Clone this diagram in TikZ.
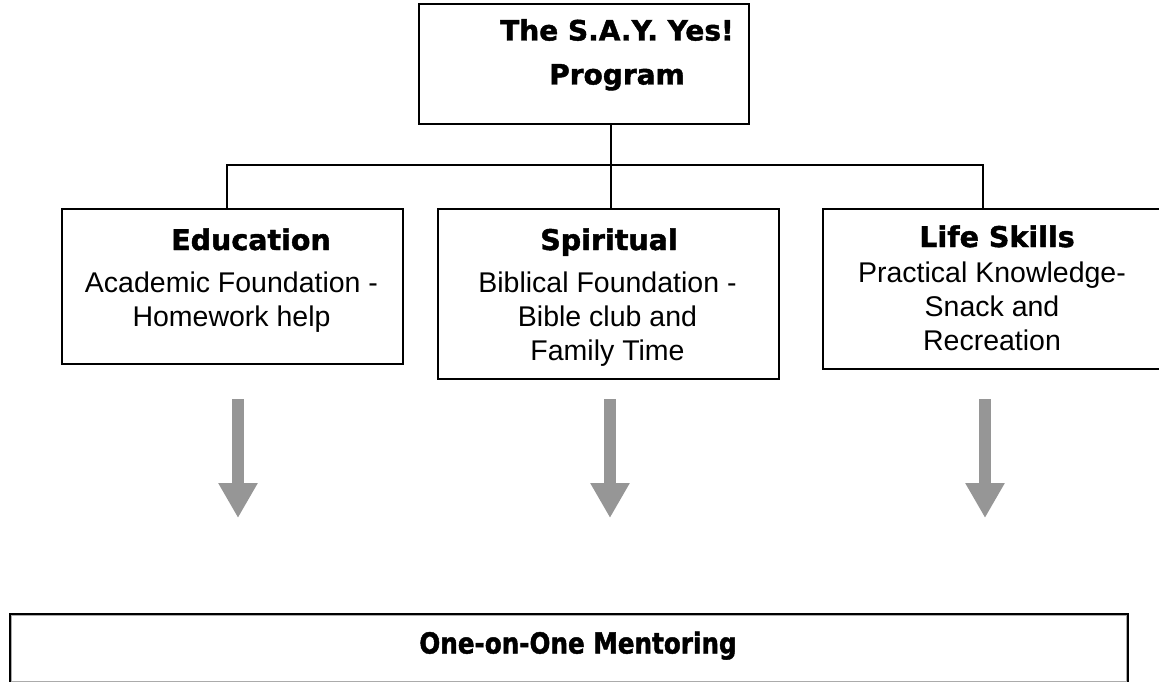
\documentclass[tikz,border=0pt]{standalone}
\usepackage{fontspec}
\setmainfont{Liberation Sans}
\newfontfamily\heavyfont{DejaVu Sans Bold}[FakeBold=1.5]
\newfontfamily\mentorfont{DejaVu Sans Bold}[FakeStretch=0.85,FakeBold=1.5]
\usetikzlibrary{arrows.meta,positioning}
\definecolor{arrgray}{RGB}{150,150,150}

\begin{document}
\begin{tikzpicture}[
  x=1pt, y=-1pt,
  box/.style={draw, line width=1.8pt, minimum width=341pt, inner sep=0pt, anchor=north west},
  title/.style={font=\heavyfont\fontsize{28}{44}\selectfont, align=center, inner sep=0pt, anchor=north},
  head/.style={font=\heavyfont\fontsize{28.5}{34}\selectfont, inner sep=0pt, anchor=base},
  body/.style={font=\fontsize{28.5}{34}\selectfont, align=center, inner sep=0pt, anchor=north},
  conn/.style={line width=1.8pt},
  fat/.style={line width=12pt, draw=arrgray, -{Triangle[width=37pt,length=35pt]}}
]
  \useasboundingbox (0,0) rectangle (1159,681);

  \node[box, minimum width=330pt, minimum height=120pt] (prog) at (418,3) {};
  \node[title] (progtxt) at (617,19) {The S.A.Y. Yes!\\Program};

  \node[box, minimum height=155pt] (edu) at (61,208) {};
  \node[box, minimum height=170pt] (spir) at (437,208) {};
  \node[box, minimum height=160pt] (life) at (822,208) {};

  \node[head] (eduhead) at (251,250) {Education};
  \node[body] (edubody) at (231.5,272) {Academic Foundation -\\Homework help};
  \node[head] (spirhead) at (609,250) {Spiritual};
  \node[body] (spirbody) at (607.5,272) {Biblical Foundation -\\Bible club and\\Family Time};
  \node[head] (lifehead) at (997,247) {Life Skills};
  \node[body] (lifebody) at (992,262) {Practical Knowledge-\\Snack and\\Recreation};

  \coordinate (hub) at (611,165);
  \coordinate (jl) at (227,165);
  \coordinate (jr) at (983,165);
  \draw[conn] (prog.south -| hub) -- (spir.north -| hub);
  \draw[conn] (edu.north -| jl) -- (jl) -- (jr) -- (life.north -| jr);

  \node[box, minimum width=1118pt, minimum height=69pt] (mentor) at (9,613) {};
  \draw[arrgray!80, line width=1.2pt] ([shift={(2.4,2.4)}]mentor.north west) rectangle ([shift={(-2.4,-2.4)}]mentor.south east);
  \node[font=\mentorfont\fontsize{29}{34}\selectfont, inner sep=0pt, anchor=base] (mentortxt) at (578,653.5) {One-on-One Mentoring};

  \coordinate (e1) at (238,399);
  \coordinate (e2) at (238,518);
  \coordinate (s1) at (610,399);
  \coordinate (s2) at (610,518);
  \coordinate (l1) at (985,399);
  \coordinate (l2) at (985,518);
  \draw[fat] (e1) -- (e2);
  \draw[fat] (s1) -- (s2);
  \draw[fat] (l1) -- (l2);
\end{tikzpicture}
\end{document}
